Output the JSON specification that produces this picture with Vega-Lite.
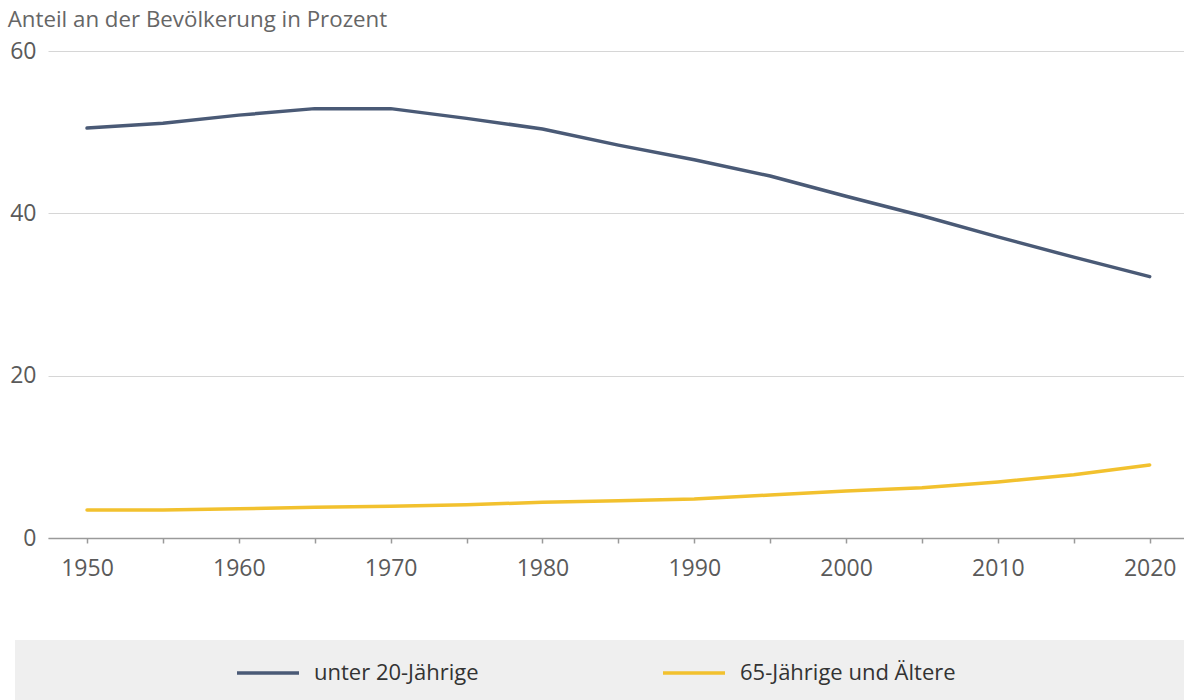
{
  "$schema": "https://vega.github.io/schema/vega-lite/v6.json",
  "autosize": {"type": "none"},
  "width": 1136,
  "height": 487,
  "padding": {"left": 48, "top": 51, "right": 0, "bottom": 162},
  "background": "white",
  "title": {
    "text": "Anteil an der Bevölkerung in Prozent",
    "anchor": "start",
    "dx": -2,
    "dy": 32,
    "offset": 23,
    "baseline": "alphabetic",
    "font": "Open Sans",
    "fontSize": 22.3,
    "fontWeight": "normal",
    "color": "#666666"
  },
  "config": {
    "view": {"stroke": null},
    "font": "Open Sans"
  },
  "data": {
    "values": [
      {"year": 1950, "group": "unter 20-Jährige", "value": 50.5},
      {"year": 1955, "group": "unter 20-Jährige", "value": 51.1},
      {"year": 1960, "group": "unter 20-Jährige", "value": 52.1},
      {"year": 1965, "group": "unter 20-Jährige", "value": 52.9},
      {"year": 1970, "group": "unter 20-Jährige", "value": 52.9},
      {"year": 1975, "group": "unter 20-Jährige", "value": 51.7},
      {"year": 1980, "group": "unter 20-Jährige", "value": 50.4},
      {"year": 1985, "group": "unter 20-Jährige", "value": 48.4},
      {"year": 1990, "group": "unter 20-Jährige", "value": 46.6},
      {"year": 1995, "group": "unter 20-Jährige", "value": 44.6},
      {"year": 2000, "group": "unter 20-Jährige", "value": 42.1},
      {"year": 2005, "group": "unter 20-Jährige", "value": 39.7},
      {"year": 2010, "group": "unter 20-Jährige", "value": 37.1},
      {"year": 2015, "group": "unter 20-Jährige", "value": 34.6},
      {"year": 2020, "group": "unter 20-Jährige", "value": 32.2},
      {"year": 1950, "group": "65-Jährige und Ältere", "value": 3.45},
      {"year": 1955, "group": "65-Jährige und Ältere", "value": 3.45},
      {"year": 1960, "group": "65-Jährige und Ältere", "value": 3.6},
      {"year": 1965, "group": "65-Jährige und Ältere", "value": 3.8},
      {"year": 1970, "group": "65-Jährige und Ältere", "value": 3.9},
      {"year": 1975, "group": "65-Jährige und Ältere", "value": 4.1},
      {"year": 1980, "group": "65-Jährige und Ältere", "value": 4.4},
      {"year": 1985, "group": "65-Jährige und Ältere", "value": 4.6},
      {"year": 1990, "group": "65-Jährige und Ältere", "value": 4.8},
      {"year": 1995, "group": "65-Jährige und Ältere", "value": 5.3},
      {"year": 2000, "group": "65-Jährige und Ältere", "value": 5.8},
      {"year": 2005, "group": "65-Jährige und Ältere", "value": 6.2},
      {"year": 2010, "group": "65-Jährige und Ältere", "value": 6.9},
      {"year": 2015, "group": "65-Jährige und Ältere", "value": 7.8},
      {"year": 2020, "group": "65-Jährige und Ältere", "value": 9.0}
    ]
  },
  "mark": {"type": "line", "strokeWidth": 3.5, "strokeCap": "round", "strokeJoin": "round"},
  "encoding": {
    "x": {
      "field": "year",
      "type": "quantitative",
      "scale": {"domain": [1947.43, 2022.26], "nice": false, "zero": false},
      "axis": {
        "title": null,
        "values": [1950, 1955, 1960, 1965, 1970, 1975, 1980, 1985, 1990, 1995, 2000, 2005, 2010, 2015, 2020],
        "format": "d",
        "labelExpr": "datum.value % 10 == 0 ? datum.label : ''",
        "grid": false,
        "domainColor": "#9a9a9a",
        "domainWidth": 1.5,
        "tickColor": "#9a9a9a",
        "tickWidth": 1.5,
        "tickSize": 5,
        "labelColor": "#5a5a5a",
        "labelFontSize": 23,
        "labelFont": "Open Sans",
        "labelPadding": 14,
        "labelFlush": false,
        "labelOverlap": false
      }
    },
    "y": {
      "field": "value",
      "type": "quantitative",
      "scale": {"domain": [0, 60], "nice": false},
      "axis": {
        "title": null,
        "values": [0, 20, 40, 60],
        "domain": false,
        "ticks": false,
        "grid": true,
        "gridColor": "#d6d6d6",
        "gridWidth": 1,
        "labelColor": "#5a5a5a",
        "labelFontSize": 23,
        "labelFont": "Open Sans",
        "labelPadding": 12,
        "labelBaseline": "middle"
      }
    },
    "color": {
      "field": "group",
      "type": "nominal",
      "scale": {"domain": ["unter 20-Jährige", "65-Jährige und Ältere"], "range": ["#4a5a76", "#f2c12e"]},
      "legend": {
        "orient": "none",
        "legendX": -33,
        "legendY": 589,
        "direction": "horizontal",
        "fillColor": "#efefef",
        "padding": 1,
        "clipHeight": 64,
        "title": "\u00a0",
        "titleOrient": "left",
        "titleFontSize": 22,
        "titlePadding": 219,
        "symbolType": "stroke",
        "symbolSize": 3844,
        "symbolStrokeWidth": 3.5,
        "labelOffset": 13,
        "labelFontSize": 22,
        "labelFont": "Open Sans",
        "labelColor": "#333333",
        "labelLimit": 2000,
        "columnPadding": 182,
        "labelExpr": "datum.value === '65-Jährige und Ältere' ? datum.label + '\u00a0\u00a0\u00a0\u00a0\u00a0\u00a0\u00a0\u00a0\u00a0\u00a0\u00a0\u00a0\u00a0\u00a0\u00a0\u00a0\u00a0\u00a0\u00a0\u00a0\u00a0\u00a0\u00a0\u00a0\u00a0\u00a0\u00a0\u00a0\u00a0\u00a0\u00a0\u00a0\u00a0\u00a0\u00a0\u00a0\u00a0\u00a0\u00a0\u00a0\u00a0\u00a0\u00a0\u00a0\u00a0\u00a0\u00a0\u00a0\u00a0\u00a0\u200b' : datum.label"
      }
    }
  }
}
